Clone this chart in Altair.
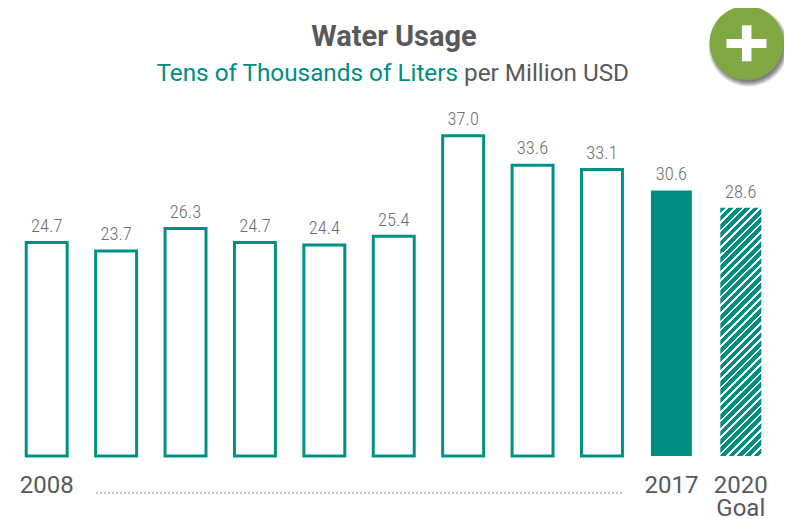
import altair as alt
import pandas as pd

years = ["2008","2009","2010","2011","2012","2013","2014","2015","2016","2017","2020"]
values = [24.7,23.7,26.3,24.7,24.4,25.4,37.0,33.6,33.1,30.6,28.6]
kinds = ["open"]*9 + ["solid","goal"]
tick_line1 = ["2008","","","","","","","","","2017","2020"]
tick_line2 = ["","","","","","","","","","","Goal"]
title_text = "Water Usage"
sub_teal = "Tens of Thousands of Liters"
sub_gray = "per Million USD"

TEAL = "#008E82"
GRAY = "#58595B"
W, H = 776, 509

df = pd.DataFrame({"year": years, "value": values, "kind": kinds, "t1": tick_line1, "t2": tick_line2})
df["label"] = df["value"].map(lambda v: f"{v:.1f}")

x = alt.X("year:N", sort=years, title=None, axis=None,
          scale=alt.Scale(range=[4, 767.5], paddingInner=0.41, paddingOuter=0.205))
y = alt.Y("value:Q", title=None, axis=None, scale=alt.Scale(domain=[0, 50], range=[448, 14]))

base = alt.Chart(df).encode(x=x, y=y)

stops = []
periods = 35
for i in range(periods):
    a = i / periods
    stops += [
        alt.GradientStop(offset=a, color=TEAL),
        alt.GradientStop(offset=a + 0.68 / periods, color=TEAL),
        alt.GradientStop(offset=a + 0.68 / periods, color="#FFFFFF"),
        alt.GradientStop(offset=a + 0.999 / periods, color="#FFFFFF"),
    ]
hatch = alt.LinearGradient(gradient="linear", x1=0, y1=0, x2=0.1867, y2=1.134, stops=stops)

open_bars = base.transform_filter("datum.kind=='open'").mark_bar(
    fill="white", stroke="#009186", strokeWidth=3, yOffset=0.8).encode(y2=alt.value(453.7 - 8))
solid = base.transform_filter("datum.kind=='solid'").mark_bar(fill=TEAL)
goal = base.transform_filter("datum.kind=='goal'").mark_bar(fill=hatch)
labels = base.mark_text(baseline="bottom", dy=-6, font="Roboto Condensed, Roboto", fontSize=18.5, fontWeight=300, color="#6D6E71").encode(text="label:N")

ticks1 = alt.Chart(df).mark_text(font="Roboto", fontSize=24, color=GRAY, baseline="alphabetic").encode(
    x=x, y=alt.value(492.5 - 8), text="t1:N")
ticks2 = alt.Chart(df).mark_text(font="Roboto", fontSize=24, color=GRAY, baseline="alphabetic").encode(
    x=x, y=alt.value(516 - 8), text="t2:N")

def txt(t, px, py, **kw):
    return alt.Chart(pd.DataFrame({"t": [t]})).mark_text(font="Roboto", **kw).encode(
        text="t:N", x=alt.value(px - 8), y=alt.value(py - 8))

t1 = txt(title_text, 394, 46, fontSize=29, fontWeight="bold", color=GRAY, align="center", baseline="alphabetic")
t2 = txt(sub_teal, 458, 81, fontSize=24.3, color=TEAL, align="right", baseline="alphabetic")
t3 = txt(sub_gray, 464, 81, fontSize=24.3, color=GRAY, align="left", baseline="alphabetic")

dots = alt.Chart(pd.DataFrame({"a": [0]})).mark_rule(color="#8A8C8E", strokeWidth=1, strokeDash=[2, 2]).encode(
    x=alt.value(96 - 8), x2=alt.value(622 - 8), y=alt.value(493 - 8))

def circ(px, py, d, color, op=1.0):
    return alt.Chart(pd.DataFrame({"a": [0]})).mark_point(
        shape="circle", filled=True, size=d * d, color=color, opacity=op).encode(
        x=alt.value(px - 8), y=alt.value(py - 8))

BX, BY = 746.5, 43  # badge kept inside the drawable page width
shadow = [circ(BX + 2, BY + 3.5, d, "#000000", 0.11) for d in (80, 78, 76, 74, 72, 70)]
badge = circ(BX, BY, 74, "#7FA843")
p1 = alt.Chart(pd.DataFrame({"a": [0]})).mark_rule(color="white", strokeWidth=9).encode(
    x=alt.value(BX - 20 - 8), x2=alt.value(BX + 20 - 8), y=alt.value(BY + 0.5 - 8))
p2 = alt.Chart(pd.DataFrame({"a": [0]})).mark_rule(color="white", strokeWidth=9.5).encode(
    x=alt.value(BX + 0.2 - 8), y=alt.value(BY - 17.7 - 8), y2=alt.value(BY + 18.3 - 8))

chart = alt.layer(open_bars, solid, goal, labels, ticks1, ticks2, t1, t2, t3, dots, *shadow, badge, p1, p2).properties(
    width=W, height=H, padding=0, autosize=alt.AutoSizeParams(type="none"), background="white"
).configure_view(stroke=None)

chart.save("out.html", embed_options={"renderer": "svg", "actions": False})
